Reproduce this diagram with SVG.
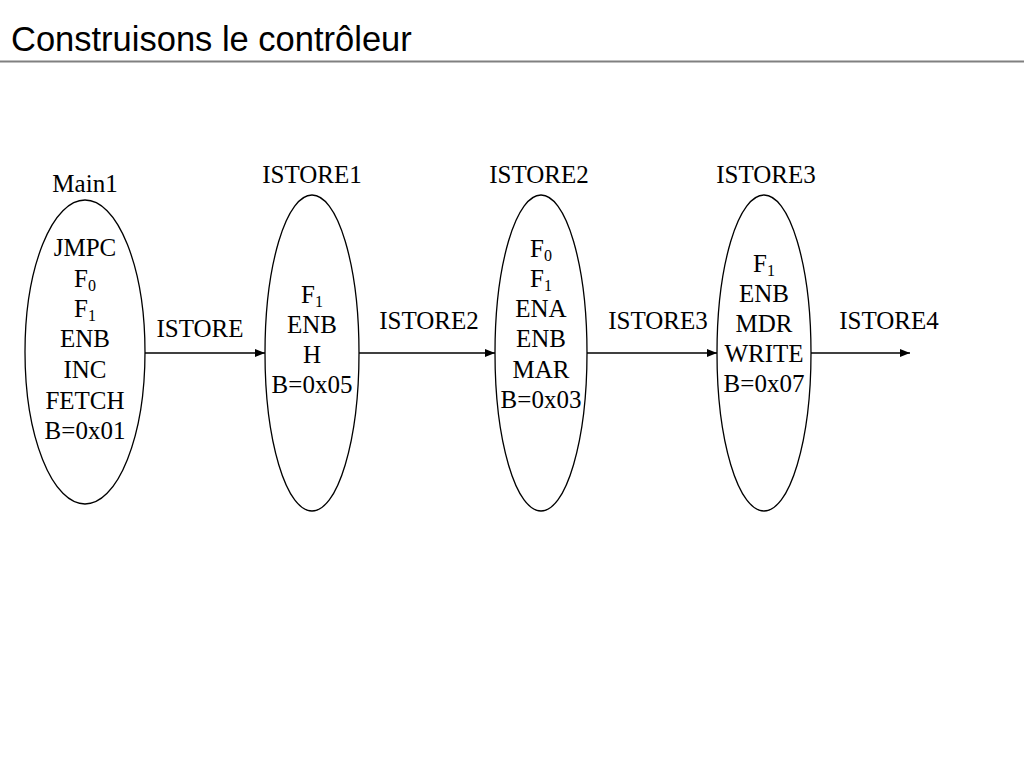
<svg xmlns="http://www.w3.org/2000/svg" width="1024" height="768" viewBox="0 0 1024 768">
<defs>
<style>
.t{font-family:"Liberation Serif","Times New Roman",serif;font-size:25px;fill:#000;text-anchor:middle}
.title{font-family:"Liberation Sans",Arial,sans-serif;font-size:34.5px;fill:#000}
.n{fill:none;stroke:#000;stroke-width:1.3}
.e{stroke:#000;stroke-width:1.3;fill:none}
.s{font-size:16px}
</style>
<marker id="ah" viewBox="0 0 10 8" refX="10" refY="4" markerWidth="10" markerHeight="8" markerUnits="userSpaceOnUse" orient="auto">
<path d="M0,0 L10,4 L0,8 Z" fill="#000"/>
</marker>
</defs>
<rect width="1024" height="768" fill="#fff"/>
<text class="title" x="11" y="51">Construisons le contrôleur</text>
<line x1="0" y1="61.5" x2="1024" y2="61.5" stroke="#808080" stroke-width="2"/>

<g id="connectors">
<line class="e" x1="145" y1="353" x2="265" y2="353" marker-end="url(#ah)"/>
<line class="e" x1="359" y1="353" x2="495" y2="353" marker-end="url(#ah)"/>
<line class="e" x1="587" y1="353" x2="717" y2="353" marker-end="url(#ah)"/>
<line class="e" x1="811" y1="353" x2="910" y2="353" marker-end="url(#ah)"/>
<text class="t" x="200" y="337">ISTORE</text>
<text class="t" x="429" y="329">ISTORE2</text>
<text class="t" x="658" y="329">ISTORE3</text>
<text class="t" x="889" y="329">ISTORE4</text>
</g>

<g id="main1">
<ellipse class="n" cx="85" cy="352" rx="60" ry="152"/>
<text class="t" x="85" y="192">Main1</text>
<text class="t" x="85" y="256">JMPC</text>
<text class="t" x="85" y="287">F<tspan class="s" dy="4">0</tspan></text>
<text class="t" x="85" y="317">F<tspan class="s" dy="4">1</tspan></text>
<text class="t" x="85" y="347">ENB</text>
<text class="t" x="85" y="378">INC</text>
<text class="t" x="85" y="409">FETCH</text>
<text class="t" x="85" y="439">B=0x01</text>
</g>

<g id="istore1">
<ellipse class="n" cx="312" cy="353" rx="47" ry="158"/>
<text class="t" x="312" y="183">ISTORE1</text>
<text class="t" x="312" y="303">F<tspan class="s" dy="4">1</tspan></text>
<text class="t" x="312" y="333">ENB</text>
<text class="t" x="312" y="363">H</text>
<text class="t" x="312" y="393">B=0x05</text>
</g>

<g id="istore2">
<ellipse class="n" cx="541" cy="353" rx="46" ry="158"/>
<text class="t" x="539" y="183">ISTORE2</text>
<text class="t" x="541" y="257">F<tspan class="s" dy="4">0</tspan></text>
<text class="t" x="541" y="287">F<tspan class="s" dy="4">1</tspan></text>
<text class="t" x="541" y="317">ENA</text>
<text class="t" x="541" y="347">ENB</text>
<text class="t" x="541" y="378">MAR</text>
<text class="t" x="541" y="408">B=0x03</text>
</g>

<g id="istore3">
<ellipse class="n" cx="764" cy="353" rx="47" ry="158"/>
<text class="t" x="766" y="183">ISTORE3</text>
<text class="t" x="764" y="272">F<tspan class="s" dy="4">1</tspan></text>
<text class="t" x="764" y="302">ENB</text>
<text class="t" x="764" y="332">MDR</text>
<text class="t" x="764" y="362">WRITE</text>
<text class="t" x="764" y="392">B=0x07</text>
</g>
</svg>
